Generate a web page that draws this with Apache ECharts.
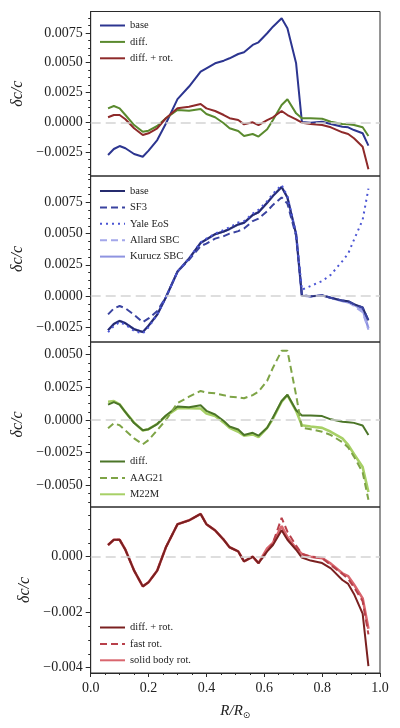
<!DOCTYPE html>
<html>
<head>
<meta charset="utf-8">
<script src="https://cdn.jsdelivr.net/npm/echarts@6/dist/echarts.min.js"></script>
<style>html,body{margin:0;padding:0;background:#fff}</style>
</head>
<body>
<div id="chart" style="width:400px;height:728px"></div>
<script>
// radius grid, R / R_sun
const radius = [0.06,0.08,0.10,0.12,0.15,0.18,0.20,0.23,0.26,0.30,0.34,0.38,0.40,0.43,0.46,0.48,0.51,0.53,0.56,0.58,0.61,0.63,0.66,0.68,0.71,0.73,0.76,0.80,0.83,0.87,0.89,0.91,0.94,0.96];

// panel 1
const base = [-0.00274,-0.00224,-0.00199,-0.00218,-0.00266,-0.00289,-0.00238,-0.00149,-0.0001,0.00195,0.0030,0.00425,0.00453,0.00495,0.00517,0.00537,0.00573,0.00587,0.00649,0.00671,0.00747,0.00802,0.00873,0.00789,0.00495,0.00003,-0.00003,0.00005,-0.00014,-0.00037,-0.00042,-0.00065,-0.00092,-0.00196];
const diff = [0.00117,0.00137,0.00117,0.00061,-0.00023,-0.00079,-0.0007,-0.00031,0.00034,0.00103,0.00097,0.00112,0.0007,0.00042,-0.00008,-0.0005,-0.00073,-0.00115,-0.00098,-0.0012,-0.00059,0.00019,0.00145,0.00193,0.00075,0.00034,0.00034,0.0003,0.00005,-0.00014,-0.00017,-0.00022,-0.00042,-0.00115];
const diffRot = [0.00042,0.00061,0.00061,0.00025,-0.0005,-0.00107,-0.00092,-0.0005,0.00034,0.00117,0.00131,0.00154,0.00117,0.00095,0.00061,0.00034,0.00019,-0.00017,0,-0.00023,0.00019,0.00042,0.00095,0.00061,0.00025,-0.00003,-0.00014,-0.00023,-0.00042,-0.00084,-0.00098,-0.00134,-0.00205,-0.00394];

// panel 2
const sf3 = [-0.00147,-0.0010,-0.0008,-0.00099,-0.0015,-0.0021,-0.0018,-0.0012,-0.0001,0.00195,0.0029,0.0040,0.0042,0.0046,0.0048,0.0050,0.0052,0.0054,0.0060,0.0062,0.0068,0.0073,0.0079,0.0074,0.0048,0.0001,-0.00003,0.00005,-0.00014,-0.00037,-0.00042,-0.00065,-0.00092,-0.00196];
const yale = [-0.0029,-0.0024,-0.0021,-0.0023,-0.0028,-0.0030,-0.0025,-0.0015,-0.0001,0.00195,0.0030,0.0043,0.0046,0.0050,0.0053,0.0055,0.0059,0.0060,0.0066,0.0069,0.0076,0.0082,0.0089,0.0080,0.0050,0.0005,0.0008,0.0012,0.0017,0.0028,0.0034,0.0045,0.0061,0.0086];
const allard = [-0.00274,-0.00224,-0.00199,-0.00218,-0.00266,-0.00289,-0.00238,-0.00149,-0.0001,0.00195,0.0030,0.00425,0.00453,0.00495,0.00517,0.00537,0.00573,0.00587,0.00649,0.00671,0.00747,0.00802,0.00873,0.00789,0.00495,0.00003,-0.00003,0.00005,-0.00014,-0.0004,-0.0005,-0.0008,-0.0013,-0.0027];
const kurucz = [-0.00274,-0.00224,-0.00199,-0.00218,-0.00266,-0.00289,-0.00238,-0.00149,-0.0001,0.00195,0.0030,0.00425,0.00453,0.00495,0.00517,0.00537,0.00573,0.00587,0.00649,0.00671,0.00747,0.00802,0.00873,0.00789,0.00495,0.00003,-0.00003,0.00005,-0.00014,-0.0004,-0.0005,-0.0007,-0.0011,-0.0026];

// panel 3
const aag21 = [-0.00064,-0.00025,-0.0004,-0.0008,-0.0014,-0.00186,-0.00153,-0.00077,0,0.0013,0.00178,0.00222,0.0021,0.00204,0.0019,0.00178,0.00174,0.00166,0.0019,0.00217,0.0030,0.0040,0.0053,0.0053,0.0019,-0.0006,-0.0007,-0.0009,-0.00115,-0.0017,-0.0021,-0.0028,-0.0040,-0.0061];
const m22m = [0.0014,0.00145,0.0012,0.0006,-0.0002,-0.0008,-0.0007,-0.0003,0.0003,0.0009,0.0009,0.00088,0.0005,0.0003,-0.0002,-0.0006,-0.0009,-0.0012,-0.0011,-0.0013,-0.0006,0.0001,0.0014,0.0019,0.0007,-0.0004,-0.0005,-0.0006,-0.0009,-0.0014,-0.0019,-0.0026,-0.0036,-0.0055];

// panel 4
const fastRot = [0.00042,0.00061,0.00061,0.00025,-0.0005,-0.00107,-0.00092,-0.0005,0.00034,0.00117,0.00131,0.00154,0.00117,0.00095,0.00061,0.00034,0.00019,-0.00017,0,-0.00023,0.00019,0.0005,0.0014,0.0009,0.0004,0.0001,0,-0.00005,-0.0003,-0.00062,-0.0008,-0.0011,-0.0016,-0.0028];
const solidRot = [0.00042,0.00061,0.00061,0.00025,-0.0005,-0.00107,-0.00092,-0.0005,0.00034,0.00117,0.00131,0.00154,0.00117,0.00095,0.00061,0.00034,0.00019,-0.00017,0,-0.00023,0.0003,0.0005,0.0011,0.0007,0.0003,0.0001,0,-0.00005,-0.00025,-0.0006,-0.0007,-0.001,-0.0015,-0.0026];

// tick labels per panel
const yTicks = [
  [-0.0025, 0, 0.0025, 0.005, 0.0075],
  [-0.0025, 0, 0.0025, 0.005, 0.0075],
  [-0.005, -0.0025, 0, 0.0025, 0.005],
  [-0.004, -0.002, 0]
];
const yRange = [[-0.004505, 0.009295], [-0.003686, 0.009615], [-0.006651, 0.005963], [-0.004191, 0.001791]];
const yDecimals = [4, 4, 4, 3];

const tops = [11.5, 176, 342, 507];
const heights = [164.5, 166, 165, 166];
const serif = "Liberation Serif";

function pairs(arr) {
  return radius.map((r, i) => [r, arr[i]]);
}

function minors(i) {
  const t = yTicks[i];
  const step = (t[1] - t[0]) / 4;
  const out = [];
  let v = t[0];
  while (v - step > yRange[i][0]) v -= step;
  for (; v < yRange[i][1]; v += step) out.push(+v.toFixed(7));
  return out;
}

let grids = [], xAxes = [], yAxes = [], legends = [], series = [];

for (let i = 0; i < 4; i++) {
  grids.push({ left: 90.7, right: 20, top: tops[i], height: heights[i], show: true, borderColor: "#2a2a2a", borderWidth: 1 });
  let last = i === 3;
  xAxes.push({
    type: "value", gridIndex: i, min: 0, max: 1, interval: 0.2,
    axisLine: { show: last, onZero: false, lineStyle: { color: "#2a2a2a" } },
    axisTick: { show: last, length: 4, lineStyle: { color: "#2a2a2a" } },
    minorTick: { show: last, splitNumber: 4, length: 2, lineStyle: { color: "#2a2a2a" } },
    axisLabel: { show: last, margin: 8, fontFamily: serif, fontSize: 14, color: "#222", formatter: v => v.toFixed(1) },
    splitLine: { show: false },
    name: last ? "{a|R/R}{b|⊙}" : "",
    nameLocation: "middle", nameGap: 29,
    nameTextStyle: {
      rich: {
        a: { fontFamily: serif, fontStyle: "italic", fontSize: 15, color: "#222" },
        b: { fontFamily: "DejaVu Sans", fontSize: 9, color: "#222", padding: [9, 0, 0, 0] }
      }
    }
  });
  yAxes.push({
    type: "value", gridIndex: i, position: "left", min: yRange[i][0], max: yRange[i][1],
    axisLine: { show: true, onZero: false, lineStyle: { color: "#2a2a2a" } },
    axisTick: { show: true, length: 5, customValues: yTicks[i], lineStyle: { color: "#2a2a2a" } },
    axisLabel: {
      show: true, customValues: yTicks[i], margin: 8, fontFamily: serif, fontSize: 14, color: "#222",
      formatter: v => v.toFixed(yDecimals[i]).replace("-", "\u2212")
    },
    splitLine: { show: false },
    name: "δc/c", nameLocation: "middle", nameGap: 57,
    nameTextStyle: { fontFamily: serif, fontStyle: "italic", fontSize: 16, color: "#222" }
  });
  yAxes.push({
    type: "value", gridIndex: i, position: "left", offset: 0, min: yRange[i][0], max: yRange[i][1],
    axisLine: { show: false, onZero: false },
    axisTick: { show: true, length: 2.5, customValues: minors(i), lineStyle: { color: "#2a2a2a" } },
    axisLabel: { show: false },
    splitLine: { show: false }
  });
}

const zeroLine = {
  silent: true, symbol: ["none", "none"], label: { show: false },
  lineStyle: { color: "#d4d4d4", type: [10, 5], width: 1.6 },
  data: [{ yAxis: 0 }]
};

function addLine(panel, name, arr, color, width, type, z) {
  const s = {
    name: name, type: "line", xAxisIndex: panel, yAxisIndex: panel * 2,
    data: pairs(arr), showSymbol: false, symbol: "none", z: z || 2,
    lineStyle: { color: color, width: width, type: type || "solid" },
    itemStyle: { color: color }
  };
  if (!series.some(x => x.xAxisIndex === panel)) s.markLine = zeroLine;
  series.push(s);
}

addLine(0, "base|1", base, "#2c3590", 2);
addLine(0, "diff.|1", diff, "#5a8a2e", 2);
addLine(0, "diff. + rot.|1", diffRot, "#8e2a2a", 2);

addLine(1, "Kurucz SBC|2", kurucz, "#8e93e0", 2.4, "solid", 2);
addLine(1, "Allard SBC|2", allard, "#a3a7ea", 2, [7, 4], 2);
addLine(1, "base|2", base, "#252b6e", 2, "solid", 3);
addLine(1, "SF3|2", sf3, "#3a43a0", 2, [7, 4], 3);
addLine(1, "Yale EoS|2", yale, "#4b55d4", 2, [2, 4], 3);

addLine(2, "M22M|3", m22m, "#a7d066", 2.6, "solid", 2);
addLine(2, "diff.|3", diff, "#4b7528", 2, "solid", 3);
addLine(2, "AAG21|3", aag21, "#7ea446", 2, [7, 4], 3);

addLine(3, "solid body rot.|4", solidRot, "#d9666e", 2.6, "solid", 2);
addLine(3, "fast rot.|4", fastRot, "#b8404a", 2, [7, 4], 3);
addLine(3, "diff. + rot.|4", diffRot, "#7a2020", 2, "solid", 4);

const legendNames = [
  ["base|1", "diff.|1", "diff. + rot.|1"],
  ["base|2", "SF3|2", "Yale EoS|2", "Allard SBC|2", "Kurucz SBC|2"],
  ["diff.|3", "AAG21|3", "M22M|3"],
  ["diff. + rot.|4", "fast rot.|4", "solid body rot.|4"]
];
const legendTops = [20, 185.5, 456, 622];

for (let i = 0; i < 4; i++) {
  legends.push({
    data: legendNames[i], orient: "vertical", left: 99, top: legendTops[i], padding: 0,
    itemWidth: 25, itemHeight: 10, itemGap: 5.4, selectedMode: false,
    itemStyle: { color: "transparent", borderColor: "transparent", borderWidth: 0, opacity: 0 },
    formatter: n => n.split("|")[0],
    textStyle: { fontFamily: serif, fontSize: 10.5, color: "#222" }
  });
}

const chart = echarts.init(document.getElementById("chart"));
chart.setOption({
  animation: false,
  backgroundColor: "#fff",
  grid: grids,
  xAxis: xAxes,
  yAxis: yAxes,
  legend: legends,
  series: series
});
</script>
</body>
</html>
